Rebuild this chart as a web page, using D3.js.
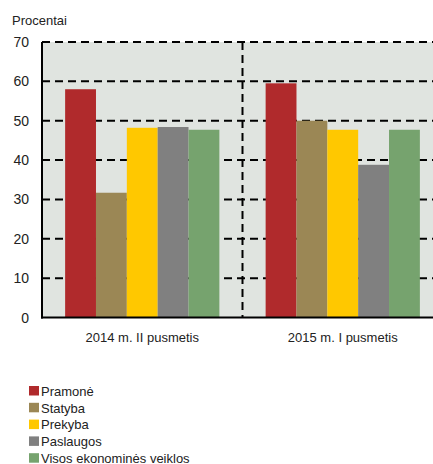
<!DOCTYPE html>
<html>
<head>
<meta charset="utf-8">
<script src="https://cdn.jsdelivr.net/npm/d3@7"></script>
<style>
  body { margin: 0; background: #fff; }
  svg { display: block; font-family: "Liberation Sans", Arial, sans-serif; }
</style>
</head>
<body>
<svg width="433" height="464"></svg>
<script>
var svg = d3.select("svg");

// data
var periods = ["2014 m. II pusmetis", "2015 m. I pusmetis"];
var sectors = ["Pramonė", "Statyba", "Prekyba", "Paslaugos", "Visos ekonominės veiklos"];
var colors = ["#b02a2c", "#9b8755", "#ffc800", "#808080", "#76a36e"];
var values2014 = [58.0, 31.7, 48.2, 48.4, 47.7];
var values2015 = [59.5, 50.0, 47.7, 38.8, 47.7];
var yTicks = [0, 10, 20, 30, 40, 50, 60, 70];

var seriesValues = [values2014, values2015];

// plot box (right side runs past the picture edge, as in the original)
var plotLeft = 42, plotTop = 42, plotBottom = 317.5, plotRight = 443;

var x0 = d3.scaleBand().domain(periods).range([plotLeft, plotRight]);
var x1 = d3.scaleBand().domain(sectors).range([0, x0.bandwidth()]).paddingOuter(0.75);
var y = d3.scaleLinear().domain([0, 70]).range([plotBottom, plotTop]);

// plot background
svg.append("rect")
  .attr("x", plotLeft).attr("y", plotTop)
  .attr("width", plotRight - plotLeft).attr("height", plotBottom - plotTop)
  .attr("fill", "#e0e4e0");

// gridlines
svg.append("g")
  .selectAll("line")
  .data(yTicks.filter(function(d) { return d > 0; }))
  .enter().append("line")
  .attr("x1", plotLeft).attr("x2", plotRight)
  .attr("y1", function(d) { return y(d); })
  .attr("y2", function(d) { return y(d); })
  .attr("stroke", "#000")
  .attr("stroke-width", 2)
  .attr("stroke-dasharray", "8,5");

// separator between periods
svg.append("line")
  .attr("x1", x0(periods[1])).attr("x2", x0(periods[1]))
  .attr("y1", plotTop).attr("y2", plotBottom)
  .attr("stroke", "#000")
  .attr("stroke-width", 2)
  .attr("stroke-dasharray", "8,5");

// bars
var groups = svg.append("g")
  .selectAll("g")
  .data(periods)
  .enter().append("g")
  .attr("transform", function(d) { return "translate(" + x0(d) + ",0)"; });

groups.selectAll("rect")
  .data(function(d, i) {
    return sectors.map(function(s, j) { return { sector: s, value: seriesValues[i][j], color: colors[j] }; });
  })
  .enter().append("rect")
  .attr("x", function(d) { return x1(d.sector); })
  .attr("width", x1.bandwidth())
  .attr("y", function(d) { return y(d.value); })
  .attr("height", function(d) { return y(0) - y(d.value); })
  .attr("fill", function(d) { return d.color; });

// axes lines
svg.append("line")
  .attr("x1", plotLeft).attr("x2", plotLeft)
  .attr("y1", plotTop).attr("y2", plotBottom + 1)
  .attr("stroke", "#000").attr("stroke-width", 2);
svg.append("line")
  .attr("x1", plotLeft - 1).attr("x2", plotRight)
  .attr("y1", plotBottom).attr("y2", plotBottom)
  .attr("stroke", "#000").attr("stroke-width", 2);

// y tick labels
svg.append("g")
  .selectAll("text")
  .data(yTicks)
  .enter().append("text")
  .attr("x", 29)
  .attr("y", function(d) { return y(d); })
  .attr("dy", "0.36em")
  .attr("text-anchor", "end")
  .attr("font-size", 14)
  .attr("fill", "#222")
  .text(function(d) { return d; });

// x labels
svg.append("g")
  .selectAll("text")
  .data(periods)
  .enter().append("text")
  .attr("x", function(d) { return x0(d) + x0.bandwidth() / 2; })
  .attr("y", 341.5)
  .attr("text-anchor", "middle")
  .attr("font-size", 13)
  .attr("fill", "#222")
  .text(function(d) { return d; });

// unit label
svg.append("text")
  .attr("x", 12).attr("y", 24.5)
  .attr("font-size", 13)
  .attr("fill", "#222")
  .text("Procentai");

// legend
var legend = svg.append("g")
  .selectAll("g")
  .data(sectors)
  .enter().append("g")
  .attr("transform", function(d, i) { return "translate(29," + (386 + i * 16.8) + ")"; });

legend.append("rect")
  .attr("width", 10).attr("height", 9.5)
  .attr("fill", function(d, i) { return colors[i]; });

legend.append("text")
  .attr("x", 12)
  .attr("y", 9.8)
  .attr("font-size", 13)
  .attr("fill", "#222")
  .text(function(d) { return d; });
</script>
</body>
</html>
